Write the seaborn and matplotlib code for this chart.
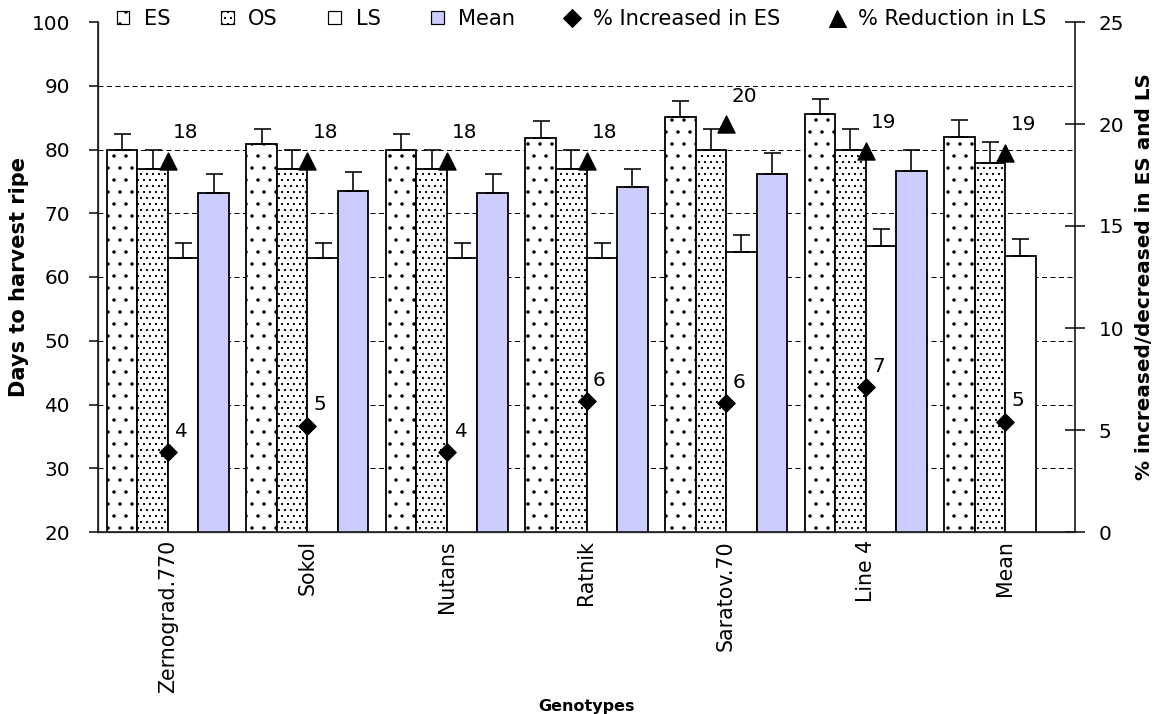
import numpy as np
import pandas as pd
import matplotlib
matplotlib.use('Agg')
import matplotlib.pyplot as plt
import seaborn as sns
from matplotlib.patches import Patch
from matplotlib.lines import Line2D

# Data
genotypes = ['Zernograd.770', 'Sokol', 'Nutans', 'Ratnik', 'Saratov.70', 'Line 4', 'Mean']
series = ['ES', 'OS', 'LS', 'Mean']

es = [80.0, 80.9, 80.0, 81.8, 85.1, 85.6, 82.0]
os_ = [77.0, 77.0, 77.0, 77.0, 80.0, 80.0, 77.9]
ls = [63.0, 63.0, 63.0, 63.0, 63.9, 64.9, 63.3]
mean = [73.1, 73.5, 73.1, 74.1, 76.1, 76.7, np.nan]

es_err = [2.4, 2.3, 2.4, 2.6, 2.5, 2.4, 2.7]
os_err = [3.0, 3.0, 3.0, 3.0, 3.2, 3.2, 3.3]
ls_err = [2.4, 2.4, 2.4, 2.4, 2.7, 2.6, 2.7]
mean_err = [3.1, 2.9, 3.1, 2.9, 3.3, 3.3, np.nan]

pct_inc_es = [3.9, 5.2, 3.9, 6.4, 6.3, 7.1, 5.4]
pct_red_ls = [18.2, 18.2, 18.2, 18.2, 20.0, 18.7, 18.6]

# Build long table for seaborn
values = {'ES': es, 'OS': os_, 'LS': ls, 'Mean': mean}
errors = {'ES': es_err, 'OS': os_err, 'LS': ls_err, 'Mean': mean_err}
df = pd.DataFrame([(g, s, values[s][i]) for s in series for i, g in enumerate(genotypes)],
                  columns=['Genotype', 'Series', 'Days']).dropna()

colors = {'ES': 'white', 'OS': 'white', 'LS': 'white', 'Mean': '#CCCCFF'}
hatches = {'ES': '.', 'OS': '..', 'LS': '', 'Mean': ''}

sns.set_theme(style='white')
plt.rcParams['font.family'] = ['DejaVu Sans']
plt.rcParams['text.color'] = 'black'
plt.rcParams['axes.labelcolor'] = 'black'
plt.rcParams['xtick.color'] = 'black'
plt.rcParams['ytick.color'] = 'black'
plt.rcParams['hatch.linewidth'] = 1.0
plt.rcParams['hatch.color'] = 'black'

# 72 dpi so that one point is one pixel
fig, ax = plt.subplots(figsize=(1163 / 72, 714 / 72), dpi=72)
fig.subplots_adjust(left=98 / 1163, right=1075 / 1163, bottom=1 - 532 / 714, top=1 - 22 / 714)

sns.barplot(data=df, x='Genotype', y='Days', hue='Series', order=genotypes, hue_order=series,
            palette=colors, saturation=1, width=0.875, gap=0, edgecolor='black', linewidth=1.8,
            errorbar=None, legend=False, ax=ax)

# Hatches and one-sided error bars
for container, s in zip(ax.containers, series):
    xs, hs, errs = [], [], []
    for bar in container:
        bar.set_hatch(hatches[s])
        xc = bar.get_x() + bar.get_width() / 2
        idx = int(round(xc))
        xs.append(xc)
        hs.append(bar.get_height())
        errs.append(errors[s][idx])
    ax.errorbar(xs, hs, yerr=[np.zeros(len(errs)), errs], fmt='none', ecolor='black',
                elinewidth=1.6, capsize=8.5, capthick=1.6)

ax.set_ylim(20, 100)
ax.set_yticks(range(20, 101, 10))
ax.set_xlim(-0.5, 6.5)
ax.set_xticks(range(len(genotypes)))
ax.set_xticklabels(genotypes, rotation=90)
ax.set_xticks(np.arange(-0.5, len(genotypes), 1), minor=True)
ax.tick_params(axis='x', which='major', length=0, pad=8, labelsize=20.5)
ax.tick_params(axis='x', which='minor', length=8, width=1.5, direction='out', color='black')
ax.tick_params(axis='y', length=9, width=1.5, direction='out', pad=19, labelsize=20, color='black', left=True)
ax.set_axisbelow(True)
ax.yaxis.grid(True, linestyle=(0, (5, 3.5)), color='black', linewidth=1.0)
ax.get_ygridlines()[-1].set_visible(False)
ax.get_ygridlines()[0].set_visible(False)
ax.spines['top'].set_visible(False)
ax.spines['right'].set_visible(False)
for sp in ['left', 'bottom']:
    ax.spines[sp].set_color('black')
    ax.spines[sp].set_linewidth(1.5)
ax.set_xlabel('Genotypes', fontsize=16, fontweight='bold', labelpad=6)
ax.set_ylabel('Days to harvest ripe', fontsize=21, fontweight='bold', labelpad=2)

# Secondary axis with percentages
ax2 = ax.twinx()
x_pos = np.arange(len(genotypes))
sns.scatterplot(x=x_pos, y=pct_inc_es, marker='D', s=156, color='black', edgecolor='black',
                legend=False, ax=ax2, zorder=5)
sns.scatterplot(x=x_pos, y=pct_red_ls, marker='^', s=290, color='black', edgecolor='black',
                legend=False, ax=ax2, zorder=5)
for x, v in zip(x_pos, pct_inc_es):
    ax2.annotate(f'{v:.0f}', (x, v), xytext=(13, 21), textcoords='offset pixels',
                 ha='center', va='center', fontsize=20)
for x, v in zip(x_pos, pct_red_ls):
    ax2.annotate(f'{v:.0f}', (x, v), xytext=(18, 28), textcoords='offset pixels',
                 ha='center', va='center', fontsize=20)
ax2.set_ylim(0, 25)
ax2.set_yticks(range(0, 26, 5))
ax2.set_xlim(-0.5, 6.5)
ax2.tick_params(axis='y', length=20, width=1.5, direction='inout', pad=14, labelsize=20, color='black', right=True)
ax2.spines['top'].set_visible(False)
ax2.spines['right'].set_color('black')
ax2.spines['right'].set_linewidth(1.5)
ax2.set_ylabel('% increased/decreased in ES and LS', fontsize=20, fontweight='bold', labelpad=10)

# Legend across the top
handles = [Patch(facecolor=colors[s], edgecolor='black', linewidth=1.2, hatch=hatches[s], label=s) for s in series]
handles += [Line2D([], [], marker='D', color='black', linestyle='none', markersize=12.5, label='% Increased in ES'),
            Line2D([], [], marker='^', color='black', linestyle='none', markersize=17, label='% Reduction in LS')]
fig.legend(handles=handles, loc='upper center', bbox_to_anchor=(0.5, 1 - 9 / 714), ncol=6, frameon=False,
           fontsize=21, handlelength=0.6, handleheight=0.6, columnspacing=2.4, handletextpad=0.7,
           borderaxespad=0, borderpad=0)

fig.savefig('out.png', dpi=72)
